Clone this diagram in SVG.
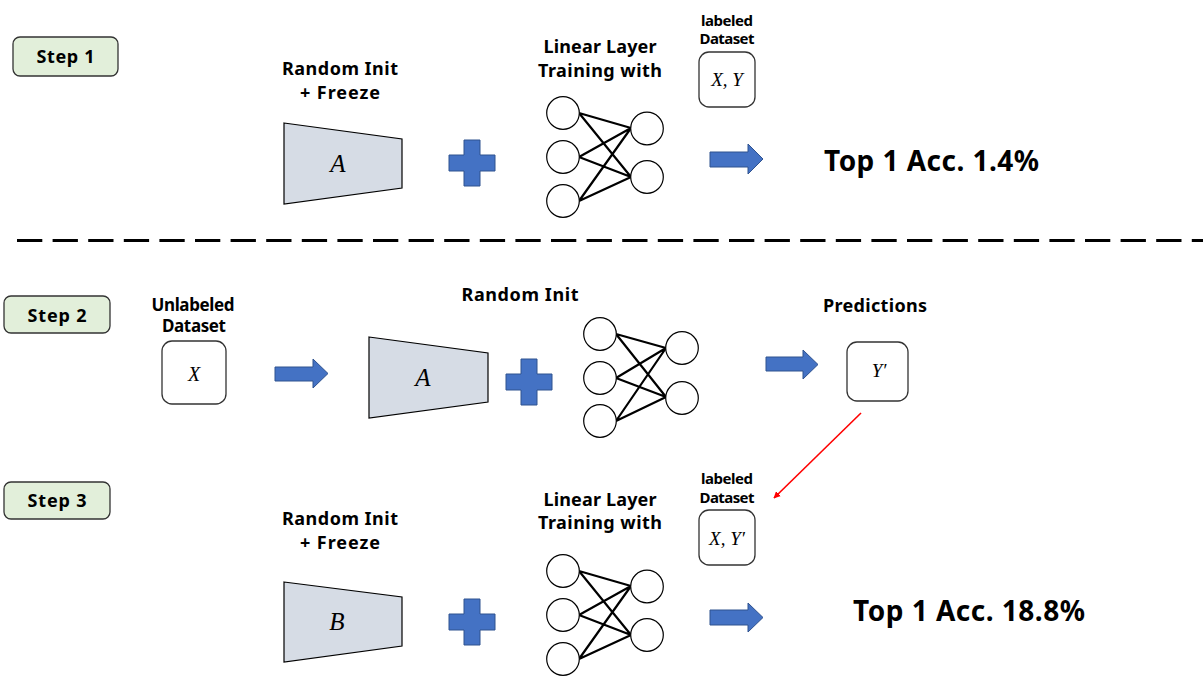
<svg xmlns="http://www.w3.org/2000/svg" xmlns:xlink="http://www.w3.org/1999/xlink" width="1203" height="693" viewBox="0 0 1203 693">
<style>
.step{fill:#E2EFDA;stroke:#333;stroke-width:1.3}
.lbl{font-family:"Noto Sans","Liberation Sans",sans-serif;font-weight:bold;fill:#000;text-anchor:middle}
.big{font-family:"Noto Sans","Liberation Sans",sans-serif;font-weight:bold;fill:#000;font-size:28px}
.math{font-family:"Liberation Serif","DejaVu Serif",serif;font-style:italic;fill:#000;text-anchor:middle}
.trap{fill:#D6DCE5;stroke:#000;stroke-width:1.2}
.blue{fill:#4472C4;stroke:#2F528F;stroke-width:1}
.box{fill:#fff;stroke:#333;stroke-width:1.3}
.node{fill:#fff;stroke:#000;stroke-width:1.2}
.edge{stroke:#000;stroke-width:2.2;fill:none}
</style>
<defs>
<g id="nn">
<path class="edge" d="M579,113 L631,128 M579,113 L631,177 M579,157 L631,128 M579,157 L631,177 M579,201 L631,128 M579,201 L631,177"/>
<circle class="node" cx="563" cy="113" r="16.3"/>
<circle class="node" cx="563" cy="157" r="16.3"/>
<circle class="node" cx="563" cy="201" r="16.3"/>
<circle class="node" cx="647" cy="128.5" r="16.3"/>
<circle class="node" cx="647" cy="177" r="16.3"/>
</g>
<path id="plus" d="M-8,-23 H8 V-8 H23 V8 H8 V23 H-8 V8 H-23 V-8 H-8 Z"/>
<marker id="redhead" viewBox="0 0 10 10" refX="9" refY="5" markerWidth="7" markerHeight="7" orient="auto" markerUnits="userSpaceOnUse">
<path d="M0,0 L10,5 L0,10 Z" fill="#FF0000"/>
</marker>
</defs>
<rect width="1203" height="693" fill="#fff"/>

<line x1="17" y1="240.5" x2="1203" y2="240.5" stroke="#000" stroke-width="3" stroke-dasharray="25.3 10.3"/>

<g id="step1">
<rect class="step" x="13" y="37" width="105" height="39" rx="7"/>
<text class="lbl" x="65.5" y="63" font-size="18" textLength="58">Step 1</text>
</g>
<g id="encoderA1">
<text class="lbl" x="340" y="75" font-size="18" textLength="116">Random Init</text>
<text class="lbl" x="340" y="99" font-size="18" textLength="80">+ Freeze</text>
<polygon class="trap" points="284,123 402,139 402,188 284,204"/>
<text class="math" x="338" y="172" font-size="25">A</text>
</g>
<g id="plus1"><use href="#plus" class="blue" x="472" y="163"/></g>
<g id="linear1">
<text class="lbl" x="600" y="53" font-size="18" textLength="113">Linear Layer</text>
<text class="lbl" x="600" y="77" font-size="18" textLength="124">Training with</text>
<use href="#nn"/>
</g>
<g id="data1">
<text class="lbl" x="727" y="26" font-size="15" textLength="52">labeled</text>
<text class="lbl" x="727" y="44" font-size="15" textLength="55">Dataset</text>
<rect class="box" x="699" y="52" width="56" height="55" rx="10"/>
<text class="math" x="727" y="86" font-size="19">X, Y</text>
</g>
<g id="result1">
<text class="big" x="824" y="171" textLength="215">Top 1 Acc. 1.4%</text>
</g>

<g id="step2">
<rect class="step" x="4" y="296" width="106" height="37" rx="7"/>
<text class="lbl" x="57" y="322" font-size="18" textLength="59">Step 2</text>
</g>
<g id="dataX">
<text class="lbl" x="193" y="311" font-size="17" textLength="83">Unlabeled</text>
<text class="lbl" x="194" y="332" font-size="17" textLength="64">Dataset</text>
<rect class="box" x="162" y="341" width="64" height="63" rx="10"/>
<text class="math" x="194" y="381" font-size="20">X</text>
</g>
<g id="encoderA2">
<text class="lbl" x="520" y="301" font-size="18" textLength="117">Random Init</text>
<polygon class="trap" points="369,337 488,353 488,402 369,418"/>
<text class="math" x="423" y="386" font-size="25">A</text>
</g>
<g id="plus2"><use href="#plus" class="blue" x="529" y="382"/></g>
<g id="linear2">
<path class="edge" d="M616,334 L666,348 M616,334 L666,397 M616,378 L666,348 M616,378 L666,397 M616,421 L666,348 M616,421 L666,397"/>
<circle class="node" cx="600" cy="334" r="16.3"/>
<circle class="node" cx="600" cy="378" r="16.3"/>
<circle class="node" cx="600" cy="421" r="16.3"/>
<circle class="node" cx="682" cy="348" r="16.3"/>
<circle class="node" cx="682" cy="398" r="16.3"/>
</g>
<g id="pred">
<text class="lbl" x="875" y="312" font-size="18" textLength="104">Predictions</text>
<rect class="box" x="847" y="342" width="61" height="59" rx="10"/>
<text class="math" x="879" y="377" font-size="19">Y′</text>
</g>

<g id="step3">
<rect class="step" x="4" y="482" width="106" height="37" rx="7"/>
<text class="lbl" x="57" y="507" font-size="18" textLength="59">Step 3</text>
</g>
<g id="encoderB">
<text class="lbl" x="340" y="525" font-size="18" textLength="116">Random Init</text>
<text class="lbl" x="340" y="549" font-size="18" textLength="80">+ Freeze</text>
<polygon class="trap" points="284,582 402,597 402,646 284,662"/>
<text class="math" x="337" y="630" font-size="25">B</text>
</g>
<g id="plus3"><use href="#plus" class="blue" x="472" y="622"/></g>
<g id="linear3">
<text class="lbl" x="600" y="506" font-size="18" textLength="113">Linear Layer</text>
<text class="lbl" x="600" y="529" font-size="18" textLength="124">Training with</text>
<use href="#nn" y="458"/>
</g>
<g id="data3">
<text class="lbl" x="727" y="484" font-size="15" textLength="52">labeled</text>
<text class="lbl" x="727" y="503" font-size="15" textLength="55">Dataset</text>
<rect class="box" x="699" y="510" width="56" height="55" rx="10"/>
<text class="math" x="727" y="545" font-size="19">X, Y′</text>
</g>
<g id="result3">
<text class="big" x="853" y="621" textLength="232">Top 1 Acc. 18.8%</text>
</g>

<g id="connectors">
<path class="blue" d="M710,152 H748 V144 L763,159 L748,174 V167 H710 Z"/>
<path class="blue" d="M275,367 H313 V359 L328,373.5 L313,388 V381 H275 Z"/>
<path class="blue" d="M766,357 H803 V350 L818,364.5 L803,379 V371 H766 Z"/>
<path class="blue" d="M710,610 H748 V603 L763,617.5 L748,632 V625 H710 Z"/>
<line x1="861" y1="413" x2="774" y2="498" stroke="#FF0000" stroke-width="1.6" marker-end="url(#redhead)"/>
</g>
</svg>
